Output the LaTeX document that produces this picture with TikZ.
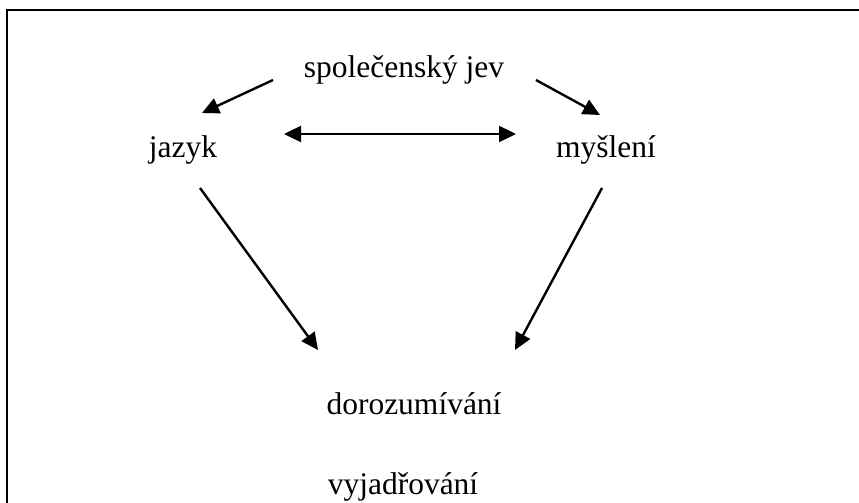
\documentclass[tikz,border=0pt]{standalone}
\usepackage{fontspec}
\setmainfont{Liberation Serif}
\usetikzlibrary{arrows.meta,calc}
\tikzset{
  lbl/.style={anchor=base, inner sep=0pt, font=\fontsize{15.75}{18}\selectfont},
  arr/.style={line width=1.2pt, -{Triangle[length=8.5pt,width=8pt]}},
  darr/.style={line width=1.2pt, {Triangle[length=8.5pt,width=8pt]}-{Triangle[length=8.5pt,width=8pt]}},
  frame/.style={line width=1.2pt}
}
\begin{document}
\begin{tikzpicture}[x=0.5pt,y=-0.5pt]
  \useasboundingbox (0,0) rectangle (859,503);
  % open frame: top and left edges only
  \draw[frame] (7,503) -- (7,10) -- (859,10);

  \node[lbl] (spol) at (404,77)  {společenský jev};
  \node[lbl] (jaz)  at (183,157) {jazyk};
  \node[lbl] (mys)  at (606,157) {myšlení};
  \node[lbl] (dor)  at (414,415) {dorozumívání};
  \node[lbl] (vyj)  at (403,494) {vyjadřování};

  \draw[arr]  ($(spol.base)+(-131,3)$) -- ($(jaz.base)+(19,-44)$);
  \draw[arr]  ($(spol.base)+(132,3)$)  -- ($(mys.base)+(-6,-42)$);
  \draw[darr] ($(jaz.base)+(101,-23)$) -- ($(mys.base)+(-90,-23)$);
  \draw[arr]  ($(jaz.base)+(17,31)$)   -- ($(dor.base)+(-96,-65)$);
  \draw[arr]  ($(mys.base)+(-4,31)$)   -- ($(dor.base)+(101,-65)$);
\end{tikzpicture}
\end{document}
